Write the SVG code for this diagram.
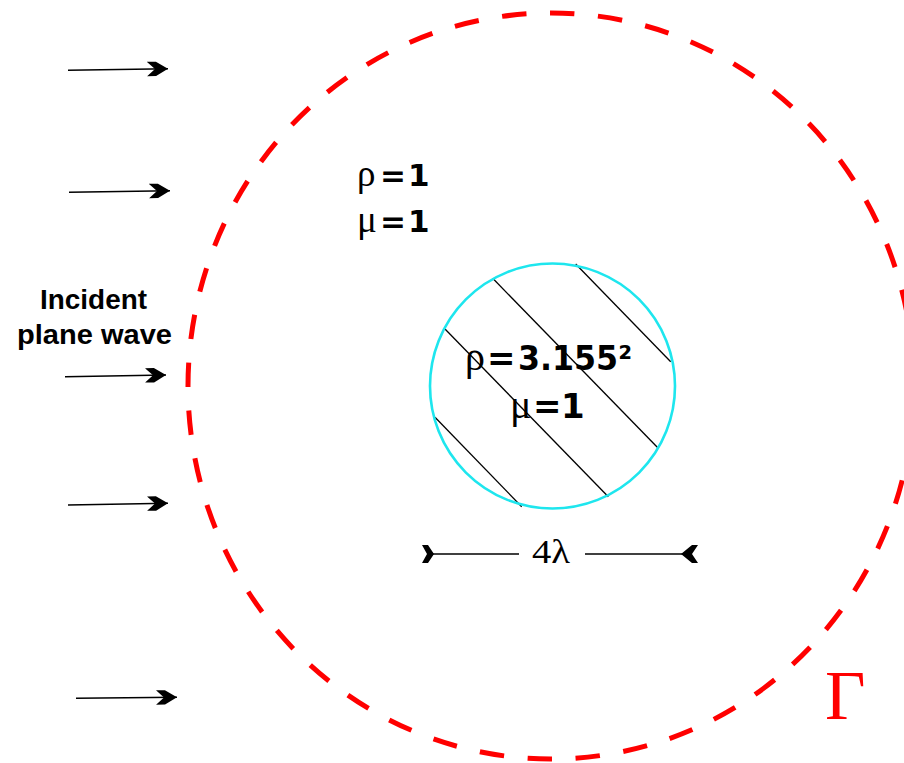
<svg xmlns="http://www.w3.org/2000/svg" width="904" height="763" viewBox="0 0 904 763">
  <style>
    .gr { font-family: "Liberation Serif", "Times New Roman", serif; }
    .b { font-family: "DejaVu Sans", "Liberation Sans", sans-serif; font-weight: bold; }
    .lbl { font-family: "Liberation Sans", Arial, sans-serif; font-weight: bold; font-size: 27px; fill: #000; }
    .wave { stroke: #000; stroke-width: 1.4; fill: none; marker-end: url(#head); }
    .hatch { stroke: #000; stroke-width: 1.3; }
    .dim { stroke: #000; stroke-width: 1.3; fill: none; }
  </style>
  <defs>
    <marker id="head" markerUnits="userSpaceOnUse" markerWidth="22" markerHeight="16" refX="21" refY="8" orient="auto">
      <path d="M0,0.8 L9,0.8 L21,8 L9,15.2 L0,15.2 L8,8 Z" fill="#000"/>
    </marker>
  </defs>
  <rect width="904" height="763" fill="#fff"/>

  <g id="boundary-gamma">
    <ellipse cx="551" cy="386" rx="363" ry="373" fill="none" stroke="#ff0000" stroke-width="5" pathLength="2312" stroke-dasharray="24.5 23.667" stroke-dashoffset="1"/>
    <text x="825" y="719" class="gr" font-size="70" fill="#ff0000">Γ</text>
  </g>

  <g id="scatterer">
    <line class="hatch" x1="575.7" y1="264" x2="670.7" y2="361.7"/>
    <line class="hatch" x1="492.7" y1="278.3" x2="657.3" y2="447.3"/>
    <line class="hatch" x1="445" y1="329" x2="608.3" y2="496.7"/>
    <line class="hatch" x1="435" y1="417.3" x2="521.7" y2="506.7"/>
    <circle cx="552.5" cy="386" r="122.5" fill="none" stroke="#1ee6ee" stroke-width="2.6"/>
    <text y="370"><tspan class="gr" font-size="40" x="465">ρ</tspan><tspan class="b" font-size="34" x="487">=</tspan><tspan class="b" font-size="34" x="518" textLength="114" lengthAdjust="spacingAndGlyphs">3.155²</tspan></text>
    <text y="418"><tspan class="gr" font-size="40" x="510">μ</tspan><tspan class="b" font-size="34" x="533">=</tspan><tspan class="b" font-size="34" x="561">1</tspan></text>
  </g>

  <g id="background-medium">
    <text y="186"><tspan class="gr" font-size="37" x="357">ρ</tspan><tspan class="b" font-size="31" x="380">=</tspan><tspan class="b" font-size="31" x="408">1</tspan></text>
    <text y="232"><tspan class="gr" font-size="37" x="357">μ</tspan><tspan class="b" font-size="31" x="380">=</tspan><tspan class="b" font-size="31" x="408">1</tspan></text>
  </g>

  <g id="incident-label">
    <text class="lbl" x="40" y="309" textLength="107" lengthAdjust="spacingAndGlyphs">Incident</text>
    <text class="lbl" x="17" y="344" textLength="155" lengthAdjust="spacingAndGlyphs">plane wave</text>
  </g>

  <g id="dimension">
    <line class="dim" x1="432" y1="554" x2="519" y2="554"/>
    <line class="dim" x1="585" y1="554" x2="684" y2="554"/>
    <polygon points="422,545 428,545 434,554 428,563 422,563 427,554" fill="#000"/>
    <polygon points="698,545 692,545 681,554 692,563 698,563 692,554" fill="#000"/>
    <text class="gr" x="532" y="563" font-size="33" textLength="38" lengthAdjust="spacingAndGlyphs">4λ</text>
  </g>

  <g id="connectors">
    <path class="wave" d="M68,70.3 L168,68.7"/>
    <path class="wave" d="M69,192.3 L170,190.7"/>
    <path class="wave" d="M65,376.7 L166,375"/>
    <path class="wave" d="M68,505 L168,503.3"/>
    <path class="wave" d="M76,698.3 L177,697.3"/>
  </g>
</svg>
